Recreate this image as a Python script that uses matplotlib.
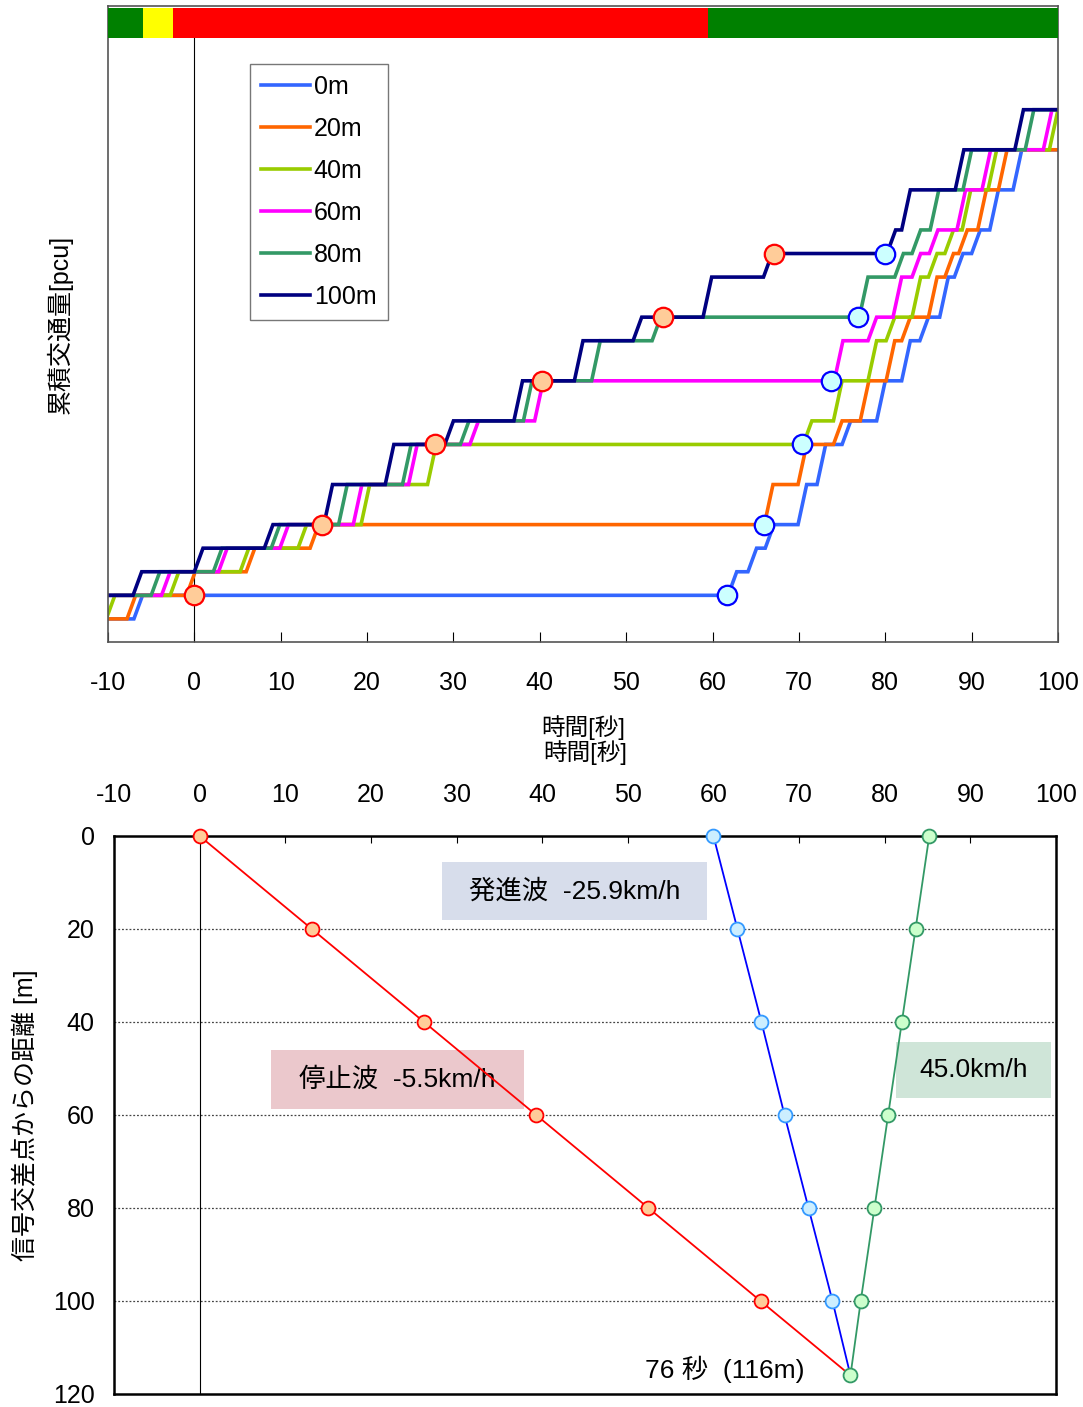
import matplotlib.pyplot as plt
from matplotlib.patches import Rectangle

plt.rcParams['font.family'] = ['Liberation Sans', 'Noto Sans CJK JP']
plt.rcParams['font.size'] = 18
plt.rcParams['axes.unicode_minus'] = False

# ---- cumulative counts at each detector ----
levels = [0, 1, 2, 3, 4, 5.7, 7.4, 8.4, 10.1, 11.8, 12.8, 14.5, 15.5, 16.5, 18.2, 19.9, 21.6]

# start time [s] of each count increment, per detector
t_0m = [-7.0, 61.8, 64.1, 66.1, 69.9, 72.1, 75.0, 79.0, 81.9, 84.0, 86.3, 88.0, 90.0, 92.1, 94.8]
t_20m = [-7.8, -0.9, 6.0, 13.4, 66.0, 69.9, 74.0, 77.1, 80.1, 81.9, 85.0, 86.9, 88.5, 90.7, 93.1]
t_40m = [-10.2, -2.8, 5.3, 12.0, 19.3, 27.0, 70.5, 74.0, 78.0, 80.1, 83.1, 85.0, 86.9, 88.9, 91.9, 99.0]
t_60m = [-12.5, -3.8, 2.8, 9.9, 18.4, 24.8, 31.9, 39.4, 74.1, 78.0, 80.9, 83.1, 85.1, 88.3, 91.2, 98.3]
t_80m = [-14.0, -5.0, 2.2, 8.9, 16.7, 24.1, 30.8, 38.1, 46.0, 53.0, 77.0, 81.1, 83.1, 85.2, 89.0, 96.2]
t_100m = [-15.5, -7.1, 0.0, 8.1, 15.0, 22.1, 29.0, 37.0, 44.0, 50.8, 58.9, 65.9, 80.2, 81.9, 88.1, 95.0]

series_names = ['0m', '20m', '40m', '60m', '80m', '100m']
series_times = [t_0m, t_20m, t_40m, t_60m, t_80m, t_100m]
series_colors = ['#3366FF', '#FF6600', '#99CC00', '#FF00FF', '#339966', '#000080']

# stop / restart points on the count curves
stop_t = [0.0, 14.8, 27.9, 40.2, 54.3, 67.1]
stop_n = [1, 4, 7.4, 10.1, 12.8, 15.5]
go_t = [61.7, 66.0, 70.4, 73.7, 76.9, 80.0]
go_n = [1, 4, 7.4, 10.1, 12.8, 15.5]

# signal phases (start, end, colour)
sig_start = [-10, -6, -2.5, 59.5]
sig_end = [-6, -2.5, 59.5, 100]
sig_color = ['#008000', '#FFFF00', '#FF0000', '#008000']

# ---- shock waves ----
dist = [0, 20, 40, 60, 80, 100]
stop_wave_t = [0.0, 13.1, 26.2, 39.3, 52.4, 65.5]
start_wave_t = [60.0, 62.8, 65.6, 68.3, 71.1, 73.9]
free_t = [85.2, 83.6, 82.0, 80.4, 78.8, 77.2]
meet_t, meet_d = 76.0, 116

rise = 1.0


def staircase(times):
    xs, ys = [-20], [levels[0]]
    for k, t in enumerate(times):
        xs += [t, t + rise]
        ys += [levels[k], levels[k + 1]]
    xs.append(110)
    ys.append(levels[len(times)])
    return xs, ys


fig = plt.figure(figsize=(10.83, 14.07), dpi=100)
ax1 = fig.add_axes([0.09972, 0.54371, 0.87719, 0.45203])
ax2 = fig.add_axes([0.10526, 0.00924, 0.86980, 0.39659])

# ================= cumulative curves
for name, times, col in zip(series_names, series_times, series_colors):
    xs, ys = staircase(times)
    ax1.plot(xs, ys, color=col, lw=2.6, label=name, solid_joinstyle='miter')

ax1.plot(stop_t, stop_n, 'o', ms=14, mfc='#FFCC99', mec='#FF0000', mew=1.6, zorder=5)
ax1.plot(go_t, go_n, 'o', ms=14, mfc='#CCFFFF', mec='#0000FF', mew=1.6, zorder=5)

bar = ax1.get_xaxis_transform()
for s, e, c in zip(sig_start, sig_end, sig_color):
    ax1.add_patch(Rectangle((s, 0.9497), e - s, 0.0472, transform=bar,
                            facecolor=c, edgecolor='none', zorder=6))
ax1.axvline(0, ymax=0.9497, color='black', lw=0.8, zorder=1)

ax1.set_xlim(-10, 100)
ax1.set_ylim(-0.98, 26.0)
ax1.set_xticks(range(-10, 101, 10))
ax1.set_yticks([])
ax1.tick_params(axis='x', direction='in', length=7, pad=21, labelsize=18)
for sp in ax1.spines.values():
    sp.set_color('#555555')
    sp.set_linewidth(1.2)
ax1.set_xlabel('時間[秒]', fontsize=17)
ax1.xaxis.set_label_coords(0.5, -0.135)
ax1.xaxis.label.set_va('center')
ax1.set_ylabel('累積交通量[pcu]', fontsize=18)
ax1.yaxis.set_label_coords(-0.0505, 0.5)
ax1.yaxis.label.set_va('center')

leg = ax1.legend(loc='upper left', bbox_to_anchor=(0.1495, 0.9088), fontsize=18,
                 frameon=True, fancybox=False, handlelength=1.95, handletextpad=0.15,
                 labelspacing=0.72, borderpad=0.45, borderaxespad=0)
leg.get_frame().set_edgecolor('#555555')
leg.get_frame().set_linewidth(1.0)

# ================= time-space diagram
ax2.set_xlim(-10, 100)
ax2.set_ylim(120, 0)
ax2.xaxis.tick_top()
ax2.xaxis.set_label_position('top')
ax2.set_xticks(range(-10, 101, 10))
ax2.set_yticks(range(0, 121, 20))
ax2.tick_params(axis='x', direction='in', length=5, pad=21, labelsize=18)
ax2.tick_params(axis='y', direction='in', length=0, pad=14, labelsize=18)
for d in dist[1:]:
    ax2.axhline(d, color='#444444', lw=0.9, ls=(0, (1.5, 1.5)), zorder=1)
ax2.axvline(0, color='black', lw=0.8, zorder=1)
for sp in ax2.spines.values():
    sp.set_color('black')
    sp.set_linewidth(1.8)

boxes = [
    ((28.3, 5.6), 30.9, 12.5, '#D7DDEB', '発進波  -25.9km/h'),
    ((8.3, 46.0), 29.6, 12.7, '#EBC8CC', '停止波  -5.5km/h'),
    ((81.3, 44.3), 18.1, 12.0, '#CFE5D8', '45.0km/h'),
]
for (x0, y0), w, h, fc, txt in boxes:
    ax2.add_patch(Rectangle((x0, y0), w, h, facecolor=fc, edgecolor='none', zorder=1))
    ax2.text(x0 + w / 2, y0 + h / 2, txt, ha='center', va='center', fontsize=19, zorder=2)
ax2.text(61.3, 114.8, '76 秒  (116m)', ha='center', va='center', fontsize=19)

ax2.plot(stop_wave_t + [meet_t], dist + [meet_d], color='#FF0000', lw=1.3, zorder=3)
ax2.plot(start_wave_t + [meet_t], dist + [meet_d], color='#0000FF', lw=1.3, zorder=3)
ax2.plot(free_t + [meet_t], dist + [meet_d], color='#339966', lw=1.3, zorder=3)
ax2.plot(stop_wave_t, dist, 'o', ms=10, mfc='#FFCC99', mec='#FF0000', mew=1.3,
         zorder=4, clip_on=False)
ax2.plot(start_wave_t, dist, 'o', ms=10, mfc='#CCEEFF', mec='#3399FF', mew=1.3,
         zorder=4, clip_on=False)
ax2.plot(free_t + [meet_t], dist + [meet_d], 'o', ms=10, mfc='#CCFFCC', mec='#339966',
         mew=1.3, zorder=4, clip_on=False)

ax2.set_xlabel('時間[秒]', fontsize=17)
ax2.xaxis.set_label_coords(0.5, 1.1487)
ax2.xaxis.label.set_va('center')
ax2.set_ylabel('信号交差点からの距離 [m]', fontsize=18)
ax2.yaxis.set_label_coords(-0.0945, 0.5)
ax2.yaxis.label.set_va('center')

fig.savefig('out.png', dpi=100)
